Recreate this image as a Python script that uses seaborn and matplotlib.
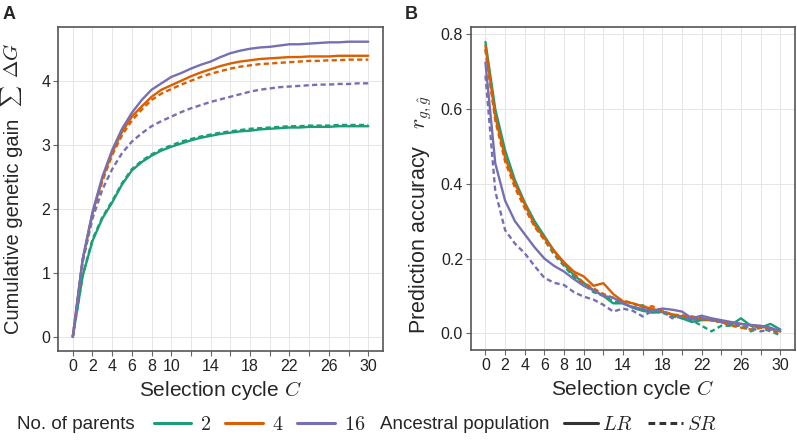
import numpy as np
import pandas as pd
import matplotlib.pyplot as plt
import seaborn as sns

sns.set_theme(style="whitegrid")
plt.rcParams['font.family'] = ['Liberation Sans', 'DejaVu Sans']
plt.rcParams['mathtext.fontset'] = 'cm'

# selection cycles
cycles = list(range(31))

# panel A: cumulative genetic gain
gain_2_lr = [0, 0.95, 1.5, 1.85, 2.1, 2.38, 2.6, 2.73, 2.83, 2.91, 2.97, 3.02, 3.07, 3.11, 3.14, 3.17,
             3.19, 3.21, 3.22, 3.24, 3.25, 3.26, 3.27, 3.27, 3.28, 3.28, 3.28, 3.29, 3.29, 3.29, 3.29]
gain_2_sr = [0, 0.96, 1.52, 1.87, 2.12, 2.4, 2.62, 2.75, 2.85, 2.93, 2.99, 3.05, 3.09, 3.13, 3.16, 3.19,
             3.21, 3.23, 3.25, 3.26, 3.27, 3.28, 3.29, 3.29, 3.3, 3.3, 3.3, 3.31, 3.31, 3.31, 3.31]
gain_4_lr = [0, 1.2, 1.93, 2.47, 2.88, 3.2, 3.44, 3.6, 3.75, 3.86, 3.93, 4.0, 4.07, 4.13, 4.18, 4.23,
             4.27, 4.3, 4.32, 4.34, 4.35, 4.36, 4.37, 4.37, 4.38, 4.38, 4.38, 4.39, 4.39, 4.39, 4.39]
gain_4_sr = [0, 1.18, 1.9, 2.43, 2.84, 3.15, 3.38, 3.55, 3.7, 3.8, 3.87, 3.94, 4.0, 4.06, 4.11, 4.15,
             4.19, 4.22, 4.24, 4.26, 4.27, 4.28, 4.29, 4.3, 4.31, 4.31, 4.32, 4.32, 4.33, 4.33, 4.33]
gain_16_lr = [0, 1.22, 1.95, 2.5, 2.92, 3.25, 3.5, 3.7, 3.86, 3.96, 4.06, 4.12, 4.19, 4.25, 4.3, 4.37,
              4.43, 4.47, 4.5, 4.52, 4.53, 4.55, 4.57, 4.57, 4.58, 4.59, 4.6, 4.6, 4.61, 4.61, 4.61]
gain_16_sr = [0, 1.17, 1.85, 2.3, 2.62, 2.87, 3.05, 3.18, 3.29, 3.37, 3.44, 3.51, 3.57, 3.62, 3.67, 3.71,
              3.75, 3.79, 3.83, 3.86, 3.88, 3.9, 3.91, 3.92, 3.93, 3.94, 3.94, 3.95, 3.95, 3.96, 3.96]

# panel B: prediction accuracy
acc_2_lr = [0.78, 0.6, 0.49, 0.41, 0.35, 0.3, 0.26, 0.22, 0.185, 0.155, 0.135, 0.115, 0.1, 0.08, 0.08, 0.068,
            0.06, 0.055, 0.057, 0.05, 0.04, 0.03, 0.035, 0.035, 0.03, 0.022, 0.04, 0.02, 0.015, 0.025, 0.01]
acc_2_sr = [0.76, 0.58, 0.47, 0.4, 0.34, 0.29, 0.25, 0.21, 0.18, 0.15, 0.13, 0.11, 0.1, 0.085, 0.08, 0.07,
            0.075, 0.058, 0.055, 0.045, 0.04, 0.035, 0.02, 0.005, 0.02, 0.02, 0.02, 0.005, 0.015, 0.005, -0.005]
acc_4_lr = [0.77, 0.58, 0.47, 0.4, 0.345, 0.29, 0.255, 0.22, 0.19, 0.165, 0.152, 0.127, 0.134, 0.105, 0.085, 0.08,
            0.072, 0.065, 0.058, 0.05, 0.045, 0.04, 0.038, 0.035, 0.03, 0.028, 0.025, 0.022, 0.018, 0.012, 0.005]
acc_4_sr = [0.76, 0.57, 0.46, 0.39, 0.335, 0.285, 0.25, 0.215, 0.185, 0.16, 0.135, 0.12, 0.105, 0.095, 0.088, 0.08,
            0.07, 0.072, 0.06, 0.05, 0.048, 0.045, 0.04, 0.035, 0.03, 0.02, 0.015, 0.01, 0.015, 0.01, 0.0]
acc_16_lr = [0.725, 0.455, 0.355, 0.3, 0.265, 0.23, 0.2, 0.18, 0.165, 0.145, 0.127, 0.115, 0.1, 0.095, 0.08, 0.07,
             0.065, 0.06, 0.066, 0.063, 0.058, 0.04, 0.047, 0.04, 0.035, 0.03, 0.025, 0.022, 0.02, 0.015, 0.005]
acc_16_sr = [0.69, 0.38, 0.276, 0.24, 0.214, 0.18, 0.148, 0.135, 0.129, 0.11, 0.098, 0.09, 0.076, 0.058, 0.066, 0.06,
             0.045, 0.06, 0.06, 0.04, 0.045, 0.035, 0.04, 0.035, 0.03, 0.025, 0.02, 0.015, 0.005, 0.01, 0.01]

parents = ["$2$", "$4$", "$16$"]
populations = ["$LR$", "$SR$"]
xtick_labels = ["0", "2", "4", "6", "8", "10", "14", "18", "22", "26", "30"]

gain_series = {("$2$", "$LR$"): gain_2_lr, ("$2$", "$SR$"): gain_2_sr,
               ("$4$", "$LR$"): gain_4_lr, ("$4$", "$SR$"): gain_4_sr,
               ("$16$", "$LR$"): gain_16_lr, ("$16$", "$SR$"): gain_16_sr}
acc_series = {("$2$", "$LR$"): acc_2_lr, ("$2$", "$SR$"): acc_2_sr,
              ("$4$", "$LR$"): acc_4_lr, ("$4$", "$SR$"): acc_4_sr,
              ("$16$", "$LR$"): acc_16_lr, ("$16$", "$SR$"): acc_16_sr}


def to_long(series):
    rows = []
    for (p, pop), vals in series.items():
        for c, v in zip(cycles, vals):
            rows.append({"cycle": c, "value": v, "No. of parents": p, "Ancestral population": pop})
    return pd.DataFrame(rows)


df_gain = to_long(gain_series)
df_acc = to_long(acc_series)

palette = {"$2$": "#1B9E77", "$4$": "#D95F02", "$16$": "#7570B3"}
dashes = {"$LR$": "", "$SR$": (2.2, 1.4)}

fig = plt.figure(figsize=(7.97, 4.40), dpi=100)
ax_a = fig.add_axes([0.0728, 0.2023, 0.4078, 0.7364])
ax_b = fig.add_axes([0.5906, 0.2045, 0.4069, 0.7341])

sns.lineplot(data=df_gain, x="cycle", y="value", hue="No. of parents", style="Ancestral population",
             hue_order=parents, style_order=populations, palette=palette, dashes=dashes,
             linewidth=1.7, ax=ax_a)
sns.lineplot(data=df_acc, x="cycle", y="value", hue="No. of parents", style="Ancestral population",
             hue_order=parents, style_order=populations, palette=palette, dashes=dashes,
             linewidth=1.7, legend=False, ax=ax_b)

for ax in (ax_a, ax_b):
    ax.set_xlim(-1.5, 31.5)
    ax.set_xticks(range(0, 31, 2))
    ax.set_xticklabels([str(t) if str(t) in xtick_labels else "" for t in range(0, 31, 2)])
    ax.grid(True, color="#e6e6e6", linewidth=0.7)
    ax.tick_params(axis="both", which="major", length=3.5, width=0.8, color="#666666",
                   labelsize=11.5, pad=2, labelcolor="#222222", direction="out", bottom=True, left=True)
    for s in ax.spines.values():
        s.set_color("#555555")
        s.set_linewidth(1.2)
    ax.set_xlabel("Selection cycle $C$", fontsize=15, labelpad=4)

ax_a.set_ylim(-0.22, 4.84)
ax_a.set_yticks([0, 1, 2, 3, 4])
# y label of panel A: text part as the axis label, the math part placed above it
ax_a.set_ylabel("")
fig.text(14 / 797, 1 - 226 / 440, "Cumulative genetic gain", fontsize=14.5, rotation=90,
         ha="center", va="center")
fig.text(12 / 797, 1 - 96 / 440, r"$\sum$", fontsize=10.5, rotation=90, ha="center", va="center")
fig.text(13 / 797, 1 - 60 / 440, r"$\Delta G$", fontsize=15, rotation=90, ha="center", va="center")

ax_b.set_ylim(-0.045, 0.82)
ax_b.set_yticks([0.0, 0.2, 0.4, 0.6, 0.8])
ax_b.set_yticklabels(["0.0", "0.2", "0.4", "0.6", "0.8"])
ax_b.set_ylabel(r"Prediction accuracy   $r_{g,\hat{g}}$", fontsize=15.5, labelpad=5, y=0.42)

fig.text(0.003, 0.968, "A", fontsize=13, fontweight="bold", va="center")
fig.text(0.508, 0.968, "B", fontsize=13, fontweight="bold", va="center")

# bottom legend: reuse seaborn's legend handles, split into two groups
leg = ax_a.get_legend()
handle_map = {t.get_text(): h for t, h in zip(leg.get_texts(), leg.legend_handles)}
leg.remove()
for h in handle_map.values():
    if h is not None and hasattr(h, "set_linewidth"):
        h.set_linewidth(2.2)

legend_y = 0.036
fig.text(17 / 797, legend_y, "No. of parents", fontsize=13.5, va="center", ha="left")
leg1 = fig.legend([handle_map[p] for p in parents], parents, loc="center left",
                  bbox_to_anchor=(154 / 797, legend_y), ncol=3, frameon=False,
                  prop={"size": 14.5}, handlelength=1.85, handletextpad=0.45, columnspacing=0.7,
                  borderpad=0, borderaxespad=0)
fig.text(380 / 797, legend_y, "Ancestral population", fontsize=13.5, va="center", ha="left")
leg2 = fig.legend([handle_map[p] for p in populations], populations, loc="center left",
                  bbox_to_anchor=(564 / 797, legend_y), ncol=2, frameon=False,
                  prop={"size": 14.5}, handlelength=1.7, handletextpad=0.2, columnspacing=0.75,
                  borderpad=0, borderaxespad=0)

fig.savefig("out.png", dpi=100)
